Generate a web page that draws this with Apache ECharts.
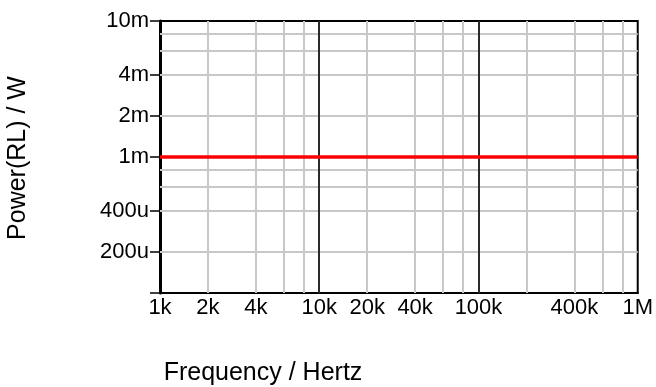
<!DOCTYPE html>
<html>
<head>
<meta charset="utf-8">
<script src="https://cdn.jsdelivr.net/npm/echarts@6/dist/echarts.min.js"></script>
<style>
  html, body { margin: 0; padding: 0; background: #fff; }
  #chart { width: 656px; height: 387px; }
</style>
</head>
<body>
<div id="chart"></div>
<script>
// ---- data ----
const freqHz = [1000, 1000000];
const powerW = [0.001, 0.001];

const xTickValues = [1000, 2000, 4000, 10000, 20000, 40000, 100000, 400000, 1000000];
const xTickLabels = ['1k', '2k', '4k', '10k', '20k', '40k', '100k', '400k', '1M'];
const yTickValues = [0.0001, 0.0002, 0.0004, 0.001, 0.002, 0.004, 0.01];
const yTickLabels = ['', '200u', '400u', '1m', '2m', '4m', '10m'];

const xMinorGrid = [2000, 4000, 6000, 8000, 20000, 40000, 60000, 80000, 200000, 400000, 600000, 800000];
const xMajorGrid = [10000, 100000];
const yMinorGrid = [0.0002, 0.0004, 0.0006, 0.0008, 0.002, 0.004, 0.006, 0.008];

const xTitle = 'Frequency / Hertz';
const yTitle = 'Power(RL) / W';

// ---- helpers ----
function lookup(values, labels, v) {
  for (let i = 0; i < values.length; i++) {
    if (Math.abs(values[i] - v) <= Math.abs(values[i]) * 1e-6) return labels[i];
  }
  return '';
}

const FONT = 'Liberation Sans, Arial, sans-serif';
const chart = echarts.init(document.getElementById('chart'), null, { renderer: 'canvas' });

const xMin = xTickValues[0], xMax = xTickValues[xTickValues.length - 1];
const gridLines = [];
xMinorGrid.forEach(v => gridLines.push({ xAxis: v, lineStyle: { color: '#c8c8c8', width: 2, type: 'solid' } }));
yMinorGrid.forEach(v => gridLines.push([
  { coord: [xMin, v], lineStyle: { color: '#c8c8c8', width: 2, type: 'solid' } },
  { coord: [xMax, v] }
]));
xMajorGrid.forEach(v => gridLines.push({ xAxis: v, lineStyle: { color: '#2a2a2a', width: 2, type: 'solid' } }));

chart.setOption({
  animation: false,
  backgroundColor: '#ffffff',
  grid: {
    left: 160, right: 18, top: 21, bottom: 94,
    show: true, borderColor: '#000', borderWidth: 2, backgroundColor: 'transparent'
  },
  xAxis: {
    type: 'log', logBase: 10, min: 1000, max: 1000000,
    axisLine: { show: true, lineStyle: { color: '#000', width: 2 } },
    axisTick: { show: false },
    splitLine: { show: false },
    minorTick: { show: false },
    axisLabel: {
      customValues: xTickValues,
      formatter: v => lookup(xTickValues, xTickLabels, v),
      color: '#000', fontFamily: FONT, fontSize: 22, margin: 4,
      showMinLabel: true, showMaxLabel: true, hideOverlap: false
    }
  },
  yAxis: {
    type: 'log', logBase: 10, min: 0.0001, max: 0.01,
    axisLine: { show: true, lineStyle: { color: '#000', width: 3 } },
    axisTick: { show: true, customValues: yTickValues, length: 10, inside: false, lineStyle: { color: '#000', width: 1.5 } },
    splitLine: { show: false },
    axisLabel: {
      customValues: yTickValues,
      formatter: v => lookup(yTickValues, yTickLabels, v),
      color: '#000', fontFamily: FONT, fontSize: 22, margin: 11,
      showMinLabel: true, showMaxLabel: true, hideOverlap: false
    }
  },
  graphic: [
    {
      type: 'text', x: 18, y: 158, rotation: Math.PI / 2,
      style: { text: yTitle, fill: '#000', font: '25px ' + FONT, align: 'center', verticalAlign: 'middle' }
    },
    {
      type: 'text', x: 263, y: 373,
      style: { text: xTitle, fill: '#000', font: '25px ' + FONT, align: 'center', verticalAlign: 'middle' }
    }
  ],
  series: [
    {
      type: 'line', name: 'grid', z: 1, silent: true,
      data: freqHz.map((f, i) => [f, powerW[i]]),
      showSymbol: false, lineStyle: { opacity: 0 },
      markLine: { silent: true, symbol: ['none', 'none'], label: { show: false }, animation: false, data: gridLines }
    },
    {
      type: 'line', name: 'Power(RL)', z: 5,
      data: freqHz.map((f, i) => [f, powerW[i]]),
      showSymbol: false,
      lineStyle: { color: '#ff0000', width: 3.5 }
    }
  ]
});
</script>
</body>
</html>
